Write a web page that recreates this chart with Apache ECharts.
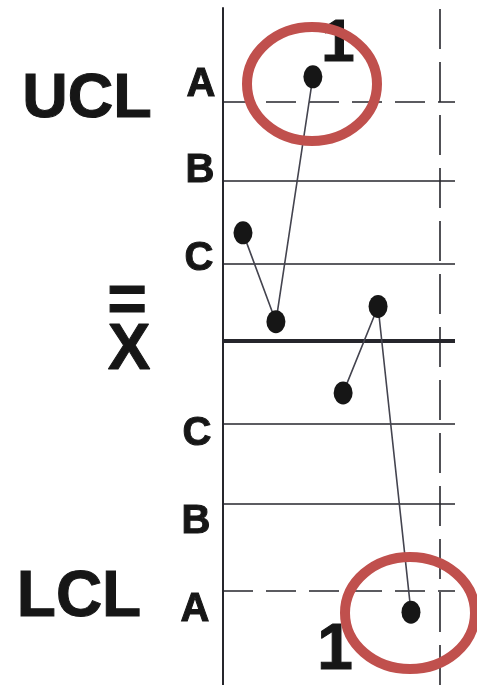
<!DOCTYPE html>
<html>
<head>
<meta charset="utf-8">
<style>
  html, body { margin: 0; padding: 0; background: #fff; }
  #chart { width: 477px; height: 685px; }
</style>
<script src="https://cdn.jsdelivr.net/npm/echarts@6/dist/echarts.min.js"></script>
</head>
<body>
<div id="chart"></div>
<script>
// subgroup means in sigma units (0 = grand mean)
const firstRunX = [1, 1.98, 3.08];
const firstRunY = [1.35, 0.24, 3.3];
const secondRunX = [3.98, 5.02, 6.0];
const secondRunY = [-0.65, 0.43, -3.39];

// zone boundaries, top to bottom
const zoneLevels = [2.99, 2.0, 0.96, 0, -1.04, -2.04, -3.12];
const zoneNames = ["A", "B", "C", "C", "B", "A"];
const limitNames = ["UCL", "LCL"];
const endLine = 6.86;

const ink = "#161616";
const rule = "#26262c";
const red = "#c0504d";

function pairs(xs, ys) {
  return xs.map(function (x, i) { return [x, ys[i]]; });
}

var chart = echarts.init(document.getElementById("chart"));

var levelLines = zoneLevels.map(function (v, i) {
  var limit = i === 0 || i === zoneLevels.length - 1;
  return {
    yAxis: v,
    lineStyle: {
      color: rule,
      width: v === 0 ? 4 : 1.6,
      type: limit ? [30, 13] : "solid"
    }
  };
});
levelLines.push({
  xAxis: endLine,
  lineStyle: { color: rule, width: 1.6, type: [40, 13] }
});

var bold = "bold {s}px 'Liberation Sans', Arial, sans-serif";
function txt(str, x, y, size) {
  return {
    type: "text",
    x: x,
    y: y,
    silent: true,
    style: {
      text: str,
      fill: ink,
      stroke: ink,
      lineWidth: 1,
      font: bold.replace("{s}", size),
      align: "center",
      verticalAlign: "middle"
    }
  };
}

var zoneY = [85, 171, 259, 434, 522, 610];
var zoneX = [201, 200, 199, 197, 196, 195];
var labels = [
  txt(limitNames[0], 87, 100, 63),
  txt(limitNames[1], 79, 598, 64),
  txt("=", 127, 303, 68),
  txt("X", 129, 351, 64),
  txt("1", 338, 44, 60),
  txt("1", 335, 651, 64)
];
zoneNames.forEach(function (n, i) {
  labels.push(txt(n, zoneX[i], zoneY[i], 40));
});
labels.push({
  type: "ellipse",
  silent: true,
  z: 100,
  shape: { cx: 312, cy: 84, rx: 65, ry: 57 },
  style: { fill: "none", stroke: red, lineWidth: 10 }
});
labels.push({
  type: "ellipse",
  silent: true,
  z: 100,
  shape: { cx: 410, cy: 613, rx: 65, ry: 56 },
  style: { fill: "none", stroke: red, lineWidth: 10 }
});

var dot = "path://M10 0 A10 10 0 1 1 10 20 A10 10 0 1 1 10 0 Z";

var option = {
  animation: false,
  backgroundColor: "#fff",
  grid: { left: 223, right: 22, top: 8, bottom: 0 },
  xAxis: {
    type: "value",
    min: 0.405,
    max: 7.31,
    show: false
  },
  yAxis: {
    type: "value",
    min: -4.3,
    max: 4.16,
    axisLine: { show: true, lineStyle: { color: rule, width: 2 } },
    axisTick: { show: false },
    axisLabel: { show: false },
    splitLine: { show: false }
  },
  series: [
    {
      type: "line",
      data: pairs(firstRunX, firstRunY),
      symbol: dot,
      symbolSize: [19, 23],
      itemStyle: { color: ink },
      lineStyle: { color: "#44444f", width: 1.6 },
      markLine: {
        silent: true,
        symbol: ["none", "none"],
        label: { show: false },
        data: levelLines
      },
      z: 5
    },
    {
      type: "line",
      data: pairs(secondRunX, secondRunY),
      symbol: dot,
      symbolSize: [19, 23],
      itemStyle: { color: ink },
      lineStyle: { color: "#44444f", width: 1.6 },
      z: 5
    }
  ],
  graphic: labels
};

chart.setOption(option);
</script>
</body>
</html>
